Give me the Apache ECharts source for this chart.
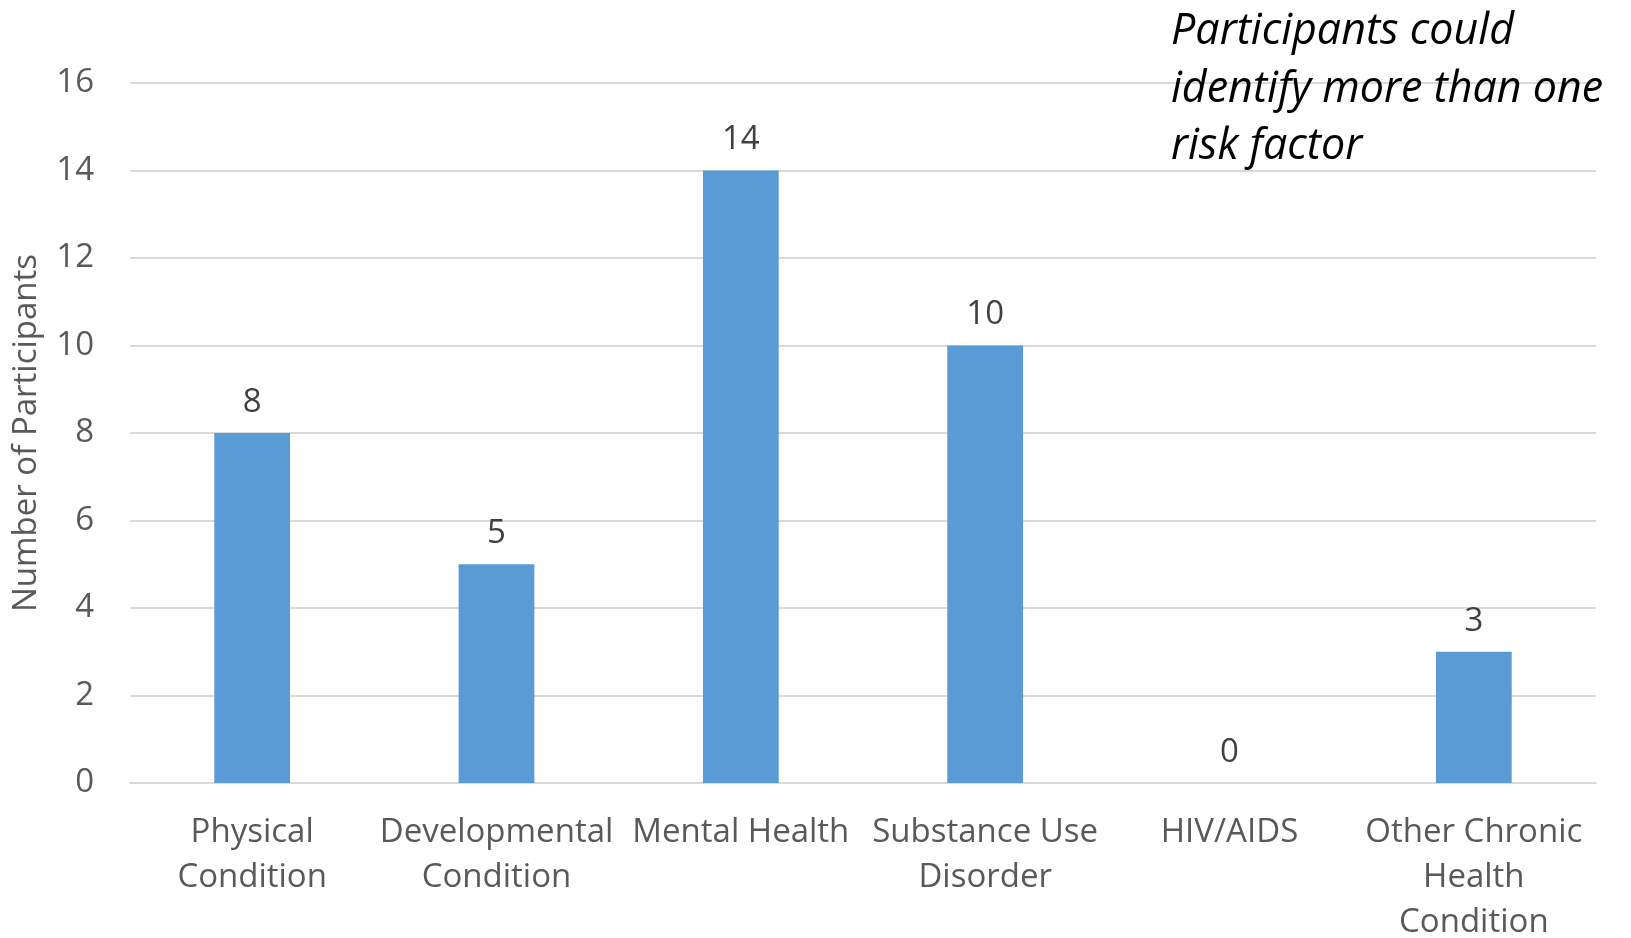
<!DOCTYPE html>
<html>
<head>
<meta charset="utf-8">
<script src="https://cdn.jsdelivr.net/npm/echarts@6/dist/echarts.min.js"></script>
<style>
html,body{margin:0;padding:0;background:#fff;}
#chart{width:1631px;height:938px;}
</style>
</head>
<body>
<div id="chart"></div>
<script>
const categories = ['Physical\nCondition', 'Developmental\nCondition', 'Mental Health', 'Substance Use\nDisorder', 'HIV/AIDS', 'Other Chronic\nHealth\nCondition'];
const participants = [8, 5, 14, 10, 0, 3];
const yTicks = { min: 0, max: 16, interval: 2 };
const yAxisTitle = 'Number of Participants';
const noteText = 'Participants could\nidentify more than one\nrisk factor';

const FONT = '"Open Sans", sans-serif';
const chart = echarts.init(document.getElementById('chart'));
chart.setOption({
  animation: false,
  backgroundColor: '#ffffff',
  title: {
    text: noteText,
    left: 1166,
    top: -2,
    textStyle: {
      fontFamily: FONT, fontStyle: 'italic', fontWeight: 'normal',
      fontSize: 43, lineHeight: 57.5, color: '#000000'
    }
  },
  grid: { left: 130, right: 35, top: 83, bottom: 155, outerBoundsMode: 'none', containLabel: false },
  xAxis: {
    type: 'category',
    data: categories,
    axisLine: { show: true, lineStyle: { color: '#d9d9d9', width: 2 } },
    axisTick: { show: false },
    axisLabel: {
      interval: 0, margin: 27,
      fontFamily: FONT, fontSize: 33, lineHeight: 45, color: '#595959', align: 'center'
    }
  },
  yAxis: {
    type: 'value',
    min: yTicks.min, max: yTicks.max, interval: yTicks.interval,
    name: yAxisTitle,
    nameLocation: 'middle',
    nameGap: 87,
    nameTextStyle: { fontFamily: FONT, fontSize: 33, color: '#595959' },
    axisLine: { show: false },
    axisTick: { show: false },
    splitLine: { lineStyle: { color: '#d9d9d9', width: 2 } },
    axisLabel: { margin: 36, fontFamily: FONT, fontSize: 33, color: '#595959' }
  },
  series: [{
    type: 'bar',
    data: participants,
    barWidth: '31%',
    itemStyle: { color: '#5b9bd5' },
    label: {
      show: true, position: 'top', distance: 14,
      fontFamily: FONT, fontSize: 33, color: '#404040'
    }
  }]
});
</script>
</body>
</html>
